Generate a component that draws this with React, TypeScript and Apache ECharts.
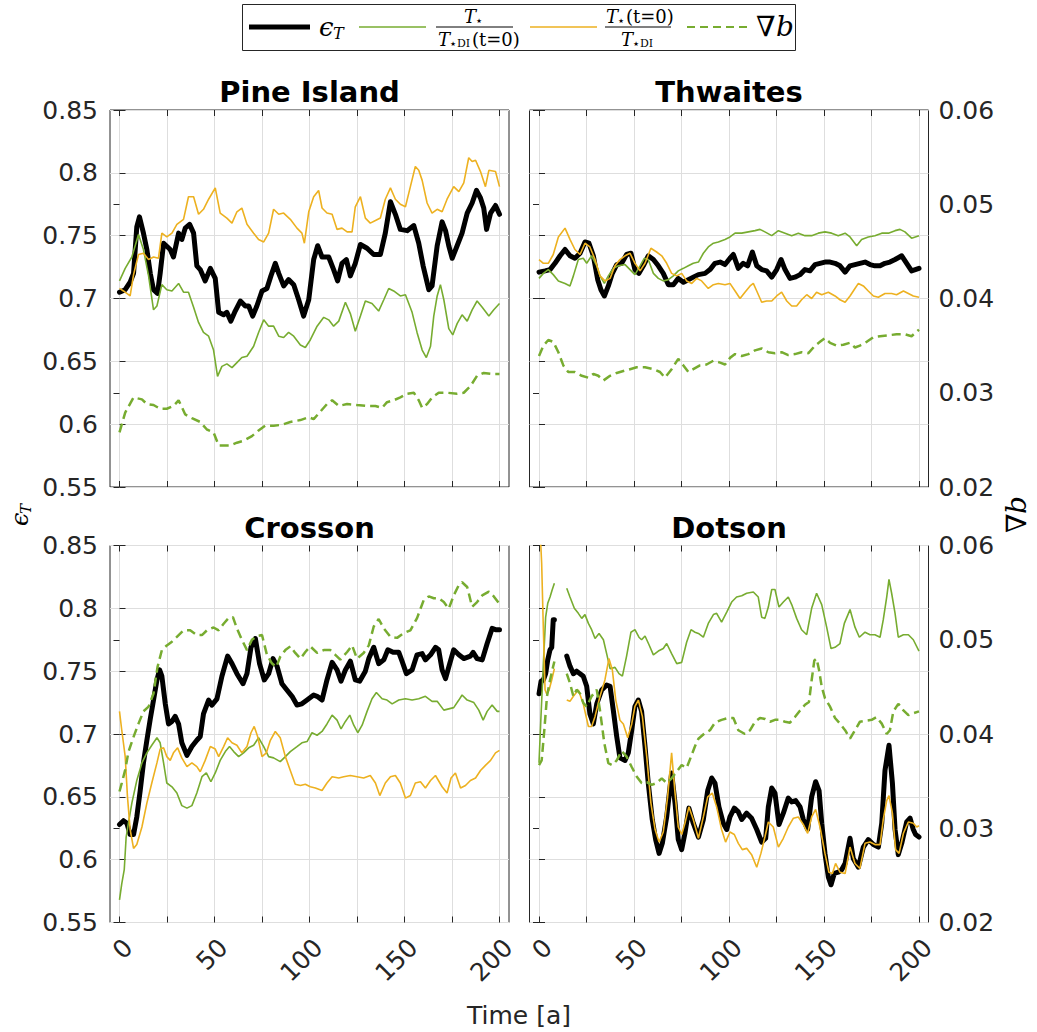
import React, { useEffect, useRef } from "react";
import * as echarts from "echarts";

// ---------------- data ----------------
const X_TICKS = [0, 25, 50, 75, 100, 125, 150, 175, 200];
const X_LABELS = [0, 50, 100, 150, 200];
const TITLES = ["Pine Island", "Thwaites", "Crosson", "Dotson"];

// Pine Island
const pineEps = [[0,0.705],[3,0.707],[5.6,0.713],[7.4,0.72],[9.1,0.757],[10.5,0.765],[12.6,0.752],[14.4,0.739],[16.2,0.72],[17.9,0.707],[20,0.704],[21.4,0.72],[23.2,0.744],[26.7,0.739],[28.4,0.733],[31.1,0.752],[32.8,0.747],[34.6,0.756],[36.9,0.759],[39,0.752],[40.7,0.726],[42.5,0.723],[45.1,0.714],[47.8,0.724],[50.4,0.716],[52.2,0.689],[54.8,0.687],[56.5,0.689],[58.6,0.682],[60.9,0.69],[63.6,0.698],[66.2,0.694],[68,0.694],[70.1,0.686],[72.3,0.694],[75,0.706],[77.6,0.708],[79.7,0.718],[82,0.728],[83.8,0.72],[86.4,0.71],[89,0.715],[91.7,0.711],[94.3,0.699],[96.9,0.686],[99.6,0.699],[102.2,0.731],[104.3,0.742],[106.6,0.733],[110.1,0.733],[112.7,0.723],[114.8,0.714],[117.1,0.728],[119.4,0.731],[121.5,0.718],[124.1,0.728],[126.8,0.743],[130.3,0.74],[133.8,0.735],[137.3,0.735],[139.9,0.752],[142.6,0.777],[145.2,0.767],[147.8,0.755],[151.4,0.754],[154.9,0.758],[157.5,0.744],[159.8,0.726],[162.8,0.707],[164.5,0.71],[167.2,0.742],[169.8,0.761],[171.6,0.754],[173.3,0.742],[175.1,0.732],[177.7,0.742],[180.3,0.752],[183,0.768],[185.6,0.776],[187.9,0.786],[190,0.78],[191.7,0.772],[193.2,0.755],[195.3,0.768],[197.9,0.774],[200,0.767]];
const pineR1 = [[0,0.714],[3,0.724],[6.5,0.733],[10,0.751],[12.6,0.739],[15.3,0.718],[17.9,0.691],[19.7,0.694],[22.3,0.711],[24.9,0.707],[27.6,0.706],[31.1,0.712],[33.7,0.705],[36.3,0.705],[39,0.693],[41.6,0.681],[44.2,0.673],[46.9,0.67],[49.5,0.659],[51.6,0.638],[53.9,0.646],[56.5,0.648],[59.2,0.645],[61.8,0.649],[64.4,0.653],[67.1,0.654],[70.6,0.662],[73.2,0.673],[75.9,0.683],[78.5,0.678],[81.1,0.678],[83.8,0.67],[86.4,0.669],[89,0.673],[91.7,0.67],[95.2,0.663],[97.8,0.661],[100.4,0.667],[104,0.678],[107.5,0.685],[110.1,0.683],[112.7,0.678],[115.4,0.682],[118.9,0.697],[121.5,0.688],[124.1,0.674],[126.8,0.686],[129.4,0.698],[132.9,0.696],[136.4,0.69],[139.1,0.699],[141.7,0.708],[144.3,0.706],[147.8,0.702],[150.5,0.703],[154,0.689],[156.6,0.673],[159.3,0.659],[161.5,0.653],[163.7,0.662],[165.4,0.686],[167.2,0.702],[168.9,0.711],[170.7,0.699],[173.3,0.676],[175.4,0.671],[177.7,0.68],[180.3,0.687],[183,0.682],[185.6,0.691],[188.2,0.698],[190.9,0.693],[194.4,0.686],[197,0.691],[200,0.696]];
const pineR2 = [[0,0.708],[2.1,0.706],[5.6,0.702],[7.4,0.719],[10,0.735],[12.6,0.736],[15.3,0.731],[17.9,0.733],[20.5,0.732],[22.3,0.752],[24.9,0.749],[27.6,0.752],[30.2,0.759],[33.7,0.763],[36.3,0.781],[39,0.781],[41.6,0.767],[44.2,0.771],[46.9,0.779],[50.4,0.788],[53,0.768],[56.5,0.764],[59.2,0.76],[61.8,0.769],[64.4,0.772],[67.1,0.759],[70.6,0.752],[73.2,0.747],[75.9,0.745],[78.5,0.752],[81.1,0.771],[83.8,0.767],[86.4,0.768],[89.9,0.763],[93.4,0.756],[96,0.752],[97.3,0.744],[99.6,0.769],[102.2,0.781],[104.8,0.786],[106.6,0.772],[109.2,0.768],[111.9,0.767],[114.5,0.755],[117.1,0.756],[119.8,0.753],[122.4,0.753],[124.1,0.773],[126.8,0.781],[129.4,0.764],[132,0.76],[134.7,0.762],[137.3,0.764],[139.9,0.779],[142.6,0.788],[145.2,0.779],[147.8,0.775],[150.5,0.773],[153.1,0.789],[155.7,0.805],[157.5,0.802],[159.3,0.794],[161.9,0.776],[164.5,0.768],[167.2,0.771],[169.8,0.769],[172.4,0.779],[175.9,0.789],[178.6,0.785],[181.2,0.792],[183.8,0.812],[185.6,0.809],[187.4,0.81],[190,0.801],[192.6,0.789],[194.4,0.802],[197.9,0.801],[200,0.789]];
const pineGrad = [[0,0.0258],[3,0.0279],[7.4,0.0295],[11.8,0.0293],[14.4,0.0288],[17.9,0.0287],[21.4,0.0283],[24.9,0.0283],[28.4,0.0286],[31.1,0.0292],[34.6,0.0277],[38.1,0.0273],[42.5,0.0269],[46,0.0261],[49.5,0.0258],[52.2,0.0244],[54.8,0.0244],[58.3,0.0244],[61.8,0.0247],[65.3,0.0249],[69.7,0.0254],[73.2,0.026],[76.7,0.0265],[81.1,0.0265],[85.5,0.0266],[89.9,0.0269],[95.2,0.0271],[99.6,0.0274],[102.2,0.0272],[105.7,0.028],[109.2,0.0288],[111.9,0.0292],[115.4,0.0286],[119.8,0.0288],[125,0.0287],[130.3,0.0286],[134.7,0.0286],[138.2,0.0284],[140.8,0.029],[144.3,0.0292],[147.8,0.0295],[151.4,0.0299],[154.9,0.03],[157.5,0.0292],[159.3,0.0284],[161.9,0.0288],[164.5,0.0295],[168,0.03],[172.4,0.03],[177.7,0.0299],[181.2,0.03],[184.7,0.0307],[188.2,0.0318],[191.7,0.0321],[196.1,0.032],[200,0.032]];

// Thwaites
const thwEps = [[0,0.721],[3.2,0.722],[5.8,0.723],[8.4,0.728],[11.1,0.734],[13.7,0.739],[16.3,0.734],[18.9,0.732],[21.6,0.736],[24.2,0.745],[26.3,0.744],[28.6,0.734],[30.9,0.715],[32.6,0.707],[34.4,0.702],[36.5,0.71],[38.6,0.72],[40.9,0.727],[43.5,0.728],[46.1,0.735],[48.4,0.736],[50.5,0.723],[52.6,0.72],[54.9,0.726],[57.5,0.734],[60.2,0.731],[62.8,0.726],[65.4,0.72],[68.1,0.711],[70.7,0.711],[73.3,0.716],[76,0.713],[78.6,0.715],[81.2,0.717],[83.9,0.719],[87.4,0.72],[90,0.723],[92.6,0.728],[95.3,0.729],[97.9,0.727],[100.5,0.732],[102.3,0.735],[104.9,0.724],[107.5,0.728],[109.8,0.726],[112.3,0.737],[114.6,0.726],[117.2,0.723],[119.8,0.722],[122.5,0.717],[125.1,0.723],[127.4,0.731],[129.5,0.723],[132.1,0.716],[134.7,0.717],[137.4,0.719],[140,0.723],[142.6,0.722],[145.3,0.727],[147.9,0.728],[150.5,0.729],[153.2,0.729],[155.8,0.728],[158.4,0.726],[161.1,0.721],[163.7,0.726],[166.3,0.727],[168.9,0.728],[171.6,0.729],[174.2,0.727],[176.8,0.726],[179.5,0.726],[182.1,0.728],[184.7,0.729],[187.4,0.731],[190.9,0.734],[193.5,0.728],[196.1,0.722],[200,0.724]];
const thwR1 = [[0,0.716],[2.3,0.72],[4.9,0.723],[7.5,0.719],[10.2,0.714],[13.7,0.712],[16.3,0.71],[18.1,0.718],[20.7,0.731],[23.3,0.732],[25.1,0.728],[27.7,0.734],[30.4,0.726],[32.1,0.718],[34.4,0.712],[36.5,0.718],[39.1,0.724],[41.8,0.726],[45.3,0.727],[47.9,0.723],[50.5,0.719],[53.2,0.726],[55.4,0.732],[57.5,0.731],[60.2,0.72],[62.8,0.716],[65.4,0.714],[68.1,0.715],[70.7,0.718],[73.3,0.722],[76,0.724],[78.6,0.726],[81.2,0.728],[83.9,0.729],[86.5,0.736],[89.1,0.741],[91.8,0.744],[94.4,0.745],[97.9,0.747],[100.5,0.749],[103.2,0.752],[106.7,0.752],[110.2,0.753],[113.7,0.754],[116.3,0.755],[118.9,0.753],[122.5,0.75],[126,0.754],[129.5,0.752],[133,0.75],[136.5,0.752],[140,0.75],[143.5,0.75],[147,0.752],[150.5,0.753],[154,0.752],[157.5,0.75],[161.1,0.752],[163.7,0.749],[167.2,0.742],[169.8,0.747],[173.3,0.749],[176.8,0.75],[180.4,0.752],[183.9,0.752],[187.4,0.754],[190,0.755],[192.6,0.753],[196.1,0.748],[200,0.75]];
const thwR2 = [[0,0.731],[2.3,0.728],[4.9,0.728],[7.5,0.735],[10.2,0.749],[13.7,0.756],[16.3,0.747],[18.9,0.739],[21.6,0.735],[24.2,0.744],[26.8,0.741],[29.5,0.731],[32.1,0.718],[34.7,0.714],[37.4,0.716],[40,0.726],[42.6,0.731],[45.3,0.734],[47.9,0.736],[50.5,0.728],[53.2,0.722],[55.8,0.728],[58.9,0.74],[61.9,0.737],[64.6,0.734],[67.2,0.728],[69.8,0.72],[72.5,0.718],[75.1,0.72],[77.7,0.714],[80.4,0.712],[83,0.716],[85.6,0.714],[89.1,0.708],[91.8,0.711],[94.4,0.712],[97.9,0.711],[100.5,0.712],[103.2,0.706],[105.8,0.7],[108.4,0.705],[111.1,0.71],[112.8,0.712],[114.6,0.706],[117.2,0.697],[119.8,0.698],[122.5,0.698],[125.1,0.702],[127.7,0.705],[130.4,0.698],[133,0.694],[135.6,0.694],[138.2,0.699],[140.9,0.703],[143.5,0.7],[146.1,0.705],[148.8,0.703],[152.3,0.705],[155.8,0.702],[158.4,0.699],[161.1,0.697],[163.7,0.702],[166.3,0.708],[168.1,0.712],[170.7,0.71],[173.3,0.706],[176,0.702],[178.6,0.701],[182.1,0.704],[185.6,0.704],[188.2,0.703],[191.8,0.706],[194.4,0.704],[197,0.702],[200,0.701]];
const thwGrad = [[0,0.0339],[2.3,0.035],[4.9,0.0356],[7.5,0.0354],[10.2,0.0343],[12.8,0.0329],[15.4,0.0322],[18.9,0.0322],[22.5,0.0318],[26,0.0316],[28.6,0.032],[31.2,0.0318],[33.9,0.0313],[37.4,0.0318],[40.9,0.0321],[44.4,0.0323],[47.9,0.0325],[51.4,0.0327],[55.8,0.0327],[60.2,0.0325],[63.7,0.0322],[66.3,0.0316],[69.8,0.0325],[73.3,0.0336],[76,0.0329],[78.6,0.0322],[81.2,0.0325],[84.7,0.0329],[88.2,0.033],[91.8,0.0334],[95.3,0.0332],[97.9,0.033],[100.5,0.0337],[103.2,0.0341],[106.7,0.0339],[110.2,0.0341],[113.7,0.0345],[117.2,0.0347],[120.7,0.0343],[124.2,0.0342],[127.7,0.0343],[131.2,0.034],[134.7,0.0341],[138.2,0.0343],[141.8,0.0342],[145.3,0.035],[147.9,0.0354],[150.5,0.0358],[153.2,0.0353],[156.7,0.035],[160.2,0.0351],[163.7,0.0353],[166.3,0.0348],[168.9,0.035],[172.5,0.0354],[176,0.0359],[179.5,0.036],[183.9,0.0361],[188.2,0.0362],[192.6,0.0362],[196.1,0.036],[200,0.0367]];

// Crosson
const croEps = [[0,0.628],[2.1,0.631],[3.9,0.629],[5.6,0.62],[7.4,0.62],[9.1,0.634],[10.9,0.655],[12.6,0.677],[14.4,0.695],[16.2,0.712],[17.9,0.727],[19.7,0.743],[21.1,0.751],[22.3,0.746],[24.1,0.724],[25.8,0.708],[27.6,0.71],[29.3,0.714],[31.1,0.708],[32.8,0.693],[35.5,0.683],[38.1,0.69],[40.7,0.695],[42.5,0.698],[44.2,0.716],[46.9,0.727],[48.6,0.723],[51.3,0.728],[53.9,0.746],[56.9,0.762],[59.2,0.756],[61.8,0.748],[65,0.74],[67.1,0.748],[69.2,0.769],[71.5,0.776],[73.7,0.756],[76.2,0.743],[78.5,0.748],[80.8,0.76],[82.9,0.754],[85.5,0.74],[88.1,0.735],[90.8,0.73],[93.4,0.723],[96,0.724],[98.7,0.727],[102.2,0.731],[104,0.73],[106.6,0.727],[109.2,0.743],[111.9,0.757],[114.5,0.751],[116.6,0.742],[118.9,0.751],[121.5,0.758],[124.1,0.743],[126.4,0.742],[129.4,0.75],[131.2,0.76],[133.8,0.769],[136.4,0.756],[139.1,0.759],[141.2,0.767],[144,0.765],[147,0.765],[148.7,0.758],[151,0.748],[154,0.751],[156.6,0.763],[159.3,0.764],[161,0.759],[163.7,0.763],[166.3,0.769],[168,0.767],[169.8,0.751],[171.6,0.744],[173.8,0.756],[175.9,0.767],[178.6,0.763],[181.2,0.76],[184.7,0.762],[186.1,0.765],[188.2,0.76],[190.9,0.759],[193.5,0.772],[196.1,0.784],[197.9,0.783],[200,0.783]];
const croR1 = [[0,0.568],[1.2,0.581],[2.5,0.592],[3.5,0.618],[4.7,0.629],[6.5,0.645],[9.1,0.663],[11.8,0.677],[14.4,0.685],[17,0.691],[19.7,0.697],[21.4,0.693],[23.2,0.677],[24.9,0.661],[27.6,0.658],[30.2,0.653],[32.8,0.643],[35.5,0.641],[38.1,0.643],[40.7,0.653],[43.4,0.666],[45.7,0.669],[48.1,0.662],[50.4,0.669],[53,0.679],[55.7,0.686],[57.9,0.69],[60.1,0.686],[62.7,0.682],[65.3,0.685],[68,0.689],[70.6,0.691],[73.2,0.697],[75.9,0.69],[78.5,0.682],[81.1,0.681],[84.6,0.678],[87.3,0.682],[89.9,0.686],[93.4,0.69],[96,0.693],[98.7,0.694],[101.3,0.701],[104,0.699],[106.6,0.702],[109.2,0.708],[111.9,0.715],[114.5,0.711],[116.6,0.704],[118.9,0.71],[121.2,0.715],[123.3,0.707],[125.4,0.701],[127.7,0.707],[130.3,0.718],[132.9,0.728],[135.2,0.733],[138.2,0.728],[140.8,0.727],[143.5,0.724],[147,0.727],[150.5,0.728],[154,0.727],[157.5,0.728],[161,0.73],[164.5,0.726],[167.2,0.726],[170.7,0.719],[173.3,0.72],[175.9,0.721],[178.6,0.727],[180.3,0.731],[183,0.727],[186.5,0.725],[189.1,0.719],[191.4,0.711],[193.5,0.718],[196.1,0.723],[198.8,0.718],[200,0.718]];
const croR2 = [[0,0.718],[1.2,0.703],[3,0.682],[4.2,0.65],[5.6,0.624],[7.4,0.609],[9.1,0.612],[11.8,0.626],[14.4,0.645],[17,0.661],[19.7,0.677],[21.4,0.688],[23.2,0.689],[24.9,0.682],[26.7,0.679],[28.4,0.685],[30.6,0.689],[32.8,0.681],[35.5,0.674],[38.1,0.677],[40.7,0.674],[42.5,0.67],[45.1,0.679],[47.8,0.69],[50.4,0.688],[52.2,0.682],[54.8,0.69],[56.9,0.697],[59.2,0.693],[61.8,0.691],[64.4,0.685],[67.1,0.69],[69.2,0.701],[70.9,0.706],[72.7,0.698],[75,0.682],[77.3,0.685],[79.4,0.695],[82,0.702],[84.6,0.697],[87.3,0.682],[89.9,0.671],[92.5,0.66],[95.2,0.659],[97.8,0.66],[100.4,0.658],[103.1,0.657],[106.6,0.655],[109.2,0.661],[111.9,0.666],[115.4,0.665],[118,0.666],[121.5,0.667],[125,0.666],[128.5,0.665],[132,0.667],[134.7,0.661],[137,0.651],[139.9,0.661],[142.6,0.666],[145.2,0.667],[147.8,0.661],[150.5,0.649],[153.1,0.651],[155.7,0.661],[158.4,0.662],[161,0.657],[163.7,0.663],[166.3,0.667],[169.8,0.658],[172.4,0.653],[174.5,0.665],[176.8,0.669],[179.5,0.657],[182.1,0.659],[184.7,0.663],[187.4,0.665],[190,0.671],[192.6,0.675],[195.3,0.679],[197.9,0.685],[200,0.687]];
const croGrad = [[0,0.0339],[1.2,0.0348],[3,0.0362],[4.7,0.0381],[7.4,0.0397],[10,0.0411],[12.6,0.0424],[15.3,0.0429],[17.9,0.0443],[20,0.0471],[22.3,0.0489],[24.9,0.0494],[27.6,0.0498],[30.2,0.0503],[33.7,0.051],[37.2,0.051],[40.7,0.0505],[43.4,0.0505],[46,0.051],[49.5,0.0513],[52.2,0.051],[54.8,0.0517],[57.4,0.0523],[59.7,0.0524],[61.8,0.0512],[64.4,0.05],[67.1,0.0489],[69.7,0.05],[72.3,0.0504],[75,0.0505],[77.6,0.0484],[80.2,0.0475],[82.5,0.0471],[84.6,0.0482],[87.3,0.0489],[89.9,0.0493],[92.5,0.0486],[95.2,0.048],[97.8,0.0487],[100.4,0.0493],[104,0.0486],[107.5,0.0489],[111,0.0489],[113.6,0.0484],[116.2,0.0479],[119.8,0.0487],[122.4,0.0494],[125,0.048],[128.5,0.0486],[131.2,0.0494],[133.8,0.0514],[136.4,0.0522],[139.1,0.0512],[142.6,0.0503],[146.1,0.0502],[149.6,0.0507],[153.1,0.051],[156.6,0.0523],[160.1,0.0542],[162.8,0.0546],[165.4,0.0544],[168,0.0544],[170.7,0.054],[173.3,0.0533],[175.9,0.0547],[178.6,0.0558],[180.3,0.0561],[183,0.0556],[185.6,0.0535],[188.2,0.054],[190.9,0.0547],[194.4,0.0551],[197,0.0546],[200,0.0538]];

// Dotson ("-" marks the data gap)
const dotEps = [[0,0.732],[1.1,0.742],[2.3,0.743],[3.5,0.748],[4.6,0.759],[5.8,0.767],[6.7,0.769],[7.5,0.791],[8.1,0.791],[11,"-"],[14.6,0.762],[16.3,0.754],[18.1,0.748],[19.8,0.75],[21.6,0.748],[23.3,0.746],[25.1,0.738],[26.8,0.716],[28.6,0.708],[30.4,0.724],[33,0.735],[35.6,0.739],[37.4,0.738],[39.1,0.719],[40.9,0.698],[42.6,0.681],[45.3,0.679],[47,0.685],[48.8,0.703],[50.5,0.722],[52.3,0.727],[54,0.718],[55.8,0.69],[57.5,0.661],[59.6,0.632],[61.4,0.616],[63.2,0.605],[64.9,0.613],[67.2,0.634],[69.8,0.669],[71.6,0.645],[73.3,0.616],[75.1,0.608],[76.8,0.621],[78.9,0.641],[81.2,0.629],[83.9,0.618],[86.5,0.632],[88.8,0.655],[90.9,0.665],[92.6,0.661],[94.7,0.642],[97,0.629],[98.8,0.624],[100.5,0.634],[102.8,0.641],[104.9,0.638],[106.7,0.632],[109.3,0.637],[111.9,0.633],[114.6,0.624],[117.2,0.614],[119.3,0.617],[120.7,0.642],[122.5,0.657],[124.2,0.653],[126.3,0.628],[128.6,0.637],[131.2,0.649],[133,0.646],[135.1,0.647],[137.4,0.642],[139.1,0.632],[141.4,0.624],[143.5,0.65],[145.6,0.662],[147.4,0.655],[148.8,0.629],[150.5,0.605],[152.3,0.586],[153.7,0.58],[155.4,0.589],[157.5,0.59],[159.3,0.592],[161.1,0.597],[163.7,0.617],[165.4,0.601],[168.1,0.594],[170.7,0.61],[173.3,0.616],[176,0.612],[178.6,0.61],[180.4,0.629],[182.1,0.671],[184.2,0.691],[186,0.661],[187.4,0.624],[189.1,0.604],[190.9,0.613],[193.5,0.63],[195.3,0.633],[197,0.624],[198.2,0.62],[200,0.618]];
const dotR1 = [[0,0.677],[1.1,0.716],[2.3,0.756],[3.5,0.793],[4.6,0.804],[5.8,0.809],[7,0.815],[8.1,0.82],[11,"-"],[14.6,0.816],[16.3,0.809],[18.6,0.8],[20.7,0.796],[22.5,0.792],[24.2,0.795],[26,0.788],[27.7,0.783],[29.5,0.776],[31.6,0.78],[33.9,0.775],[35.6,0.764],[37.4,0.752],[40,0.753],[42.1,0.748],[43.9,0.746],[46.1,0.762],[48.4,0.781],[50.5,0.783],[52.6,0.777],[54,0.775],[55.8,0.778],[57.9,0.771],[60.2,0.763],[62.8,0.766],[65.4,0.768],[67.2,0.772],[69.8,0.764],[72.5,0.756],[75.1,0.757],[77.7,0.773],[80,0.783],[82.1,0.781],[83.9,0.78],[86.5,0.777],[89.1,0.788],[91.8,0.795],[93.5,0.796],[96.1,0.789],[98.8,0.797],[101.4,0.805],[104,0.809],[106.7,0.81],[109.3,0.812],[112.8,0.813],[115.4,0.809],[117.2,0.793],[118.9,0.792],[120.7,0.801],[122.5,0.815],[124.2,0.815],[126.3,0.801],[128.6,0.805],[131.2,0.809],[133,0.803],[135.6,0.792],[138.2,0.783],[140.9,0.779],[143.5,0.8],[146.1,0.812],[148.8,0.803],[151.4,0.785],[153.7,0.768],[155.8,0.769],[158.4,0.772],[160.7,0.788],[163.7,0.799],[166.3,0.785],[168.6,0.777],[171.6,0.781],[174.2,0.779],[176.8,0.779],[179.5,0.777],[181.2,0.791],[183,0.809],[184.2,0.823],[185.6,0.812],[187.4,0.796],[189.1,0.777],[191.8,0.779],[194.4,0.779],[197,0.775],[200,0.766]];
const dotR2 = [[0,0.88],[1.4,0.836],[2.3,0.783],[3.2,0.735],[4,0.732],[5.3,0.735],[6.7,0.743],[8.1,0.752],[11,"-"],[14.6,0.727],[16.3,0.726],[18.1,0.73],[20.7,0.735],[23.3,0.724],[26,0.706],[27.7,0.706],[29.5,0.714],[32.1,0.73],[34.7,0.743],[36.8,0.76],[38.6,0.751],[40.4,0.727],[42.6,0.711],[44.4,0.708],[46.7,0.697],[48.8,0.708],[50.5,0.722],[52.3,0.727],[54.4,0.714],[56.7,0.682],[58.9,0.645],[61.1,0.624],[63.2,0.614],[65.4,0.622],[67.7,0.65],[69.8,0.685],[71.6,0.653],[73.3,0.626],[75.1,0.62],[76.8,0.629],[78.9,0.642],[81.2,0.632],[83.9,0.617],[86.5,0.634],[88.8,0.65],[91.2,0.653],[93.5,0.642],[96.1,0.624],[98.2,0.614],[100.5,0.622],[102.8,0.62],[104.9,0.613],[107,0.608],[109.3,0.609],[111.9,0.604],[114.6,0.594],[116.8,0.605],[118.9,0.618],[120.7,0.63],[123.3,0.626],[126,0.61],[128.6,0.617],[131.2,0.626],[133.9,0.633],[136.5,0.634],[139.1,0.628],[141.4,0.621],[143.5,0.634],[145.6,0.64],[147.9,0.626],[150.5,0.605],[152.6,0.59],[154.4,0.589],[156.1,0.597],[158.4,0.59],[161.1,0.589],[163.7,0.61],[166.3,0.597],[168.9,0.593],[171.6,0.613],[174.2,0.614],[176.8,0.612],[179.5,0.612],[181.2,0.632],[183,0.647],[184.2,0.651],[186,0.637],[187.7,0.608],[189.5,0.605],[191.8,0.621],[194.4,0.63],[197,0.629],[198.8,0.626],[200,0.627]];
const dotGrad = [[0,0.0367],[1.4,0.0372],[2.8,0.0404],[4.2,0.044],[5.8,0.0457],[7,0.0468],[8.1,0.0477],[11,"-"],[14.6,0.0464],[16.3,0.0454],[18.1,0.044],[19.8,0.0447],[21.6,0.0443],[23.3,0.0433],[25.1,0.0429],[27.7,0.044],[30.4,0.0447],[32.1,0.0425],[34.4,0.039],[36.5,0.0369],[38.6,0.0367],[40.9,0.0372],[43.5,0.0382],[46.1,0.0376],[48.8,0.0365],[51.4,0.0355],[54,0.0348],[56.7,0.0349],[59.3,0.0346],[61.9,0.0348],[64.6,0.0353],[67.2,0.0348],[69.8,0.0353],[72.5,0.036],[75.1,0.0367],[77.7,0.0364],[80,0.0376],[82.1,0.0387],[83.9,0.0395],[87.4,0.0401],[90,0.0404],[92.6,0.0412],[96.1,0.0415],[99.6,0.0417],[102.3,0.0417],[104.9,0.0404],[108.4,0.04],[111.1,0.0404],[113.7,0.0413],[116.3,0.0417],[118.9,0.0416],[121.6,0.0413],[124.2,0.0415],[126.8,0.0415],[129.5,0.0413],[132.1,0.0412],[134.7,0.0418],[137.4,0.0425],[140,0.0431],[142.1,0.0434],[143.5,0.0457],[144.9,0.0478],[146.1,0.048],[147.4,0.0468],[148.8,0.045],[150.5,0.0438],[153.2,0.0429],[155.8,0.0417],[158.4,0.0411],[161.1,0.0404],[163.7,0.0395],[166.3,0.0404],[168.9,0.0413],[171.6,0.0414],[175.1,0.0415],[177.7,0.0418],[180.4,0.0411],[183,0.04],[184.7,0.0404],[186.5,0.0424],[189.1,0.0432],[191.8,0.0425],[194.4,0.042],[197,0.0422],[200,0.0424]];

const EPS = [pineEps, thwEps, croEps, dotEps];
const R1 = [pineR1, thwR1, croR1, dotR1];
const R2 = [pineR2, thwR2, croR2, dotR2];
const GRAD = [pineGrad, thwGrad, croGrad, dotGrad];

// ---------------- styling ----------------
const GREEN = "#77AC30";
const ORANGE = "#EDB120";
const AX = "#262626";
const GRIDC = "#dedede";
const SANS = "DejaVu Sans";
const SERIF = "DejaVu Serif";

const GRIDS = [
  { left: 110, top: 110 },
  { left: 529.5, top: 110 },
  { left: 110, top: 545.5 },
  { left: 529.5, top: 545.5 },
];
const GW = 399;
const GH = 377;

function txt(x: number, y: number, text: string, o: any = {}) {
  return {
    type: "text",
    x,
    y,
    silent: true,
    z: 100,
    style: {
      text,
      fill: o.fill || "#000",
      fontSize: o.fontSize || 18,
      fontFamily: o.fontFamily || SERIF,
      fontStyle: o.fontStyle || "normal",
      fontWeight: o.fontWeight || "normal",
      align: o.align || "left",
      textAlign: o.align || "left",
      verticalAlign: "middle",
      textVerticalAlign: "middle",
    },
  };
}
function ln(x1: number, y1: number, x2: number, y2: number, stroke: string, w: number, dash?: number[]) {
  return {
    type: "line",
    silent: true,
    z: 100,
    shape: { x1, y1, x2, y2 },
    style: { stroke, lineWidth: w, lineDash: dash || null },
  };
}

function buildOption() {
  const xAxis: any[] = [];
  const yAxis: any[] = [];
  const series: any[] = [];
  for (let i = 0; i < 4; i++) {
    xAxis.push({
      type: "value",
      gridIndex: i,
      min: -5,
      max: 205,
      position: "bottom",
      axisLine: { show: false },
      axisTick: { show: true, inside: true, length: 6, customValues: X_TICKS, lineStyle: { color: AX } },
      axisLabel: {
        show: i >= 2,
        customValues: X_LABELS,
        rotate: 45,
        fontSize: 25,
        fontFamily: SANS,
        color: AX,
        margin: 12,
        verticalAlign: "top",
      },
      splitLine: { show: true, lineStyle: { color: GRIDC, width: 1 } },
    });
  }
  for (let i = 0; i < 4; i++) {
    xAxis.push({
      type: "value",
      gridIndex: i,
      min: -5,
      max: 205,
      position: "top",
      axisLine: { show: false },
      axisTick: { show: true, inside: true, length: 6, customValues: X_TICKS, lineStyle: { color: AX } },
      axisLabel: { show: false },
      splitLine: { show: false },
    });
  }
  for (let i = 0; i < 4; i++) {
    yAxis.push({
      type: "value",
      gridIndex: i,
      min: 0.55,
      max: 0.85,
      interval: 0.05,
      position: "left",
      axisLine: { show: false },
      axisTick: { show: true, inside: true, length: 6, lineStyle: { color: AX } },
      axisLabel: {
        show: i % 2 === 0,
        fontSize: 25,
        fontFamily: SANS,
        color: AX,
        margin: 12,
        formatter: (v: number) => String(+v.toFixed(2)),
      },
      splitLine: { show: true, lineStyle: { color: GRIDC, width: 1 } },
    });
  }
  for (let i = 0; i < 4; i++) {
    yAxis.push({
      type: "value",
      gridIndex: i,
      min: 0.02,
      max: 0.06,
      interval: 0.01,
      position: "right",
      axisLine: { show: false },
      axisTick: { show: true, inside: true, length: 6, lineStyle: { color: AX } },
      axisLabel: {
        show: i % 2 === 1,
        fontSize: 25,
        fontFamily: SANS,
        color: AX,
        margin: 10,
        formatter: (v: number) => String(+v.toFixed(2)),
      },
      splitLine: { show: false },
    });
  }
  for (let i = 0; i < 4; i++) {
    series.push({
      type: "line",
      xAxisIndex: i,
      yAxisIndex: i,
      data: EPS[i],
      showSymbol: false,
      symbol: "none",
      lineStyle: { color: "#000", width: 5, cap: "round", join: "round" },
      z: 2,
    });
    series.push({
      type: "line",
      xAxisIndex: i,
      yAxisIndex: i,
      data: R1[i],
      showSymbol: false,
      symbol: "none",
      lineStyle: { color: GREEN, width: 1.6 },
      z: 3,
    });
    series.push({
      type: "line",
      xAxisIndex: i,
      yAxisIndex: i,
      data: R2[i],
      showSymbol: false,
      symbol: "none",
      lineStyle: { color: ORANGE, width: 1.6 },
      z: 4,
    });
    series.push({
      type: "line",
      xAxisIndex: i,
      yAxisIndex: 4 + i,
      data: GRAD[i],
      showSymbol: false,
      symbol: "none",
      lineStyle: { color: GREEN, width: 2.5, type: [9, 5] },
      z: 5,
    });
  }

  const graphic: any[] = [];
  // panel titles
  for (let i = 0; i < 4; i++) {
    const g = GRIDS[i];
    graphic.push(
      txt(g.left + GW / 2, g.top - 18, TITLES[i], { fontSize: 29, fontFamily: SANS, fontWeight: "bold", align: "center" })
    );
  }
  // legend
  graphic.push({
    type: "rect",
    silent: true,
    z: 99,
    shape: { x: 242.5, y: 4.5, width: 553, height: 46 },
    style: { fill: "#fff", stroke: AX, lineWidth: 1 },
  });
  graphic.push(ln(249, 27, 310, 27, "#000", 5));
  graphic.push(txt(319, 27, "ϵ", { fontSize: 26, fontStyle: "italic" }));
  graphic.push(txt(333, 33, "T", { fontSize: 16, fontStyle: "italic" }));
  graphic.push(ln(359, 27, 426, 27, GREEN, 1.6));
  // fraction 1
  graphic.push(ln(436, 27, 513, 27, "#000", 1));
  graphic.push(txt(464, 16, "T", { fontSize: 18, fontStyle: "italic" }));
  graphic.push(txt(475, 20, "⋆", { fontSize: 13, fontFamily: SANS }));
  graphic.push(txt(438, 39, "T", { fontSize: 18, fontStyle: "italic" }));
  graphic.push(txt(449, 43, "⋆", { fontSize: 13, fontFamily: SANS }));
  graphic.push(txt(457, 43, "DI", { fontSize: 11 }));
  graphic.push(txt(472, 39, "(t=0)", { fontSize: 18 }));
  graphic.push(ln(530, 27, 597, 27, ORANGE, 1.6));
  // fraction 2
  graphic.push(ln(605, 27, 671, 27, "#000", 1));
  graphic.push(txt(606, 16, "T", { fontSize: 18, fontStyle: "italic" }));
  graphic.push(txt(617, 20, "⋆", { fontSize: 13, fontFamily: SANS }));
  graphic.push(txt(626, 16, "(t=0)", { fontSize: 18 }));
  graphic.push(txt(621, 39, "T", { fontSize: 18, fontStyle: "italic" }));
  graphic.push(txt(632, 43, "⋆", { fontSize: 13, fontFamily: SANS }));
  graphic.push(txt(640, 43, "DI", { fontSize: 11 }));
  graphic.push(ln(687, 27, 750, 27, GREEN, 2.2, [8, 5]));
  graphic.push(txt(756, 26, "∇", { fontSize: 28 }));
  graphic.push(txt(776, 26, "b", { fontSize: 28, fontStyle: "italic" }));

  // axis names
  graphic.push({
    type: "group",
    x: 20,
    y: 517,
    rotation: Math.PI / 2,
    silent: true,
    children: [
      txt(-9, 0, "ϵ", { fontSize: 24, fontStyle: "italic" }),
      txt(3, 6, "T", { fontSize: 15, fontStyle: "italic" }),
    ],
  });
  graphic.push({
    type: "group",
    x: 1016,
    y: 517,
    rotation: Math.PI / 2,
    silent: true,
    children: [
      txt(-16, 0, "∇", { fontSize: 28 }),
      txt(3, 0, "b", { fontSize: 28, fontStyle: "italic" }),
    ],
  });
  graphic.push(txt(519, 1015, "Time [a]", { fontSize: 25, fontFamily: SANS, fill: AX, align: "center" }));

  return {
    animation: false,
    backgroundColor: "#fff",
    grid: GRIDS.map((g) => ({
      left: g.left,
      top: g.top,
      width: GW,
      height: GH,
      show: true,
      borderColor: AX,
      borderWidth: 1,
      backgroundColor: "transparent",
      containLabel: false,
    })),
    xAxis,
    yAxis,
    series,
    graphic,
  };
}

export default function App() {
  const ref = useRef<HTMLDivElement>(null);
  useEffect(() => {
    if (!ref.current) return;
    const chart = echarts.init(ref.current, undefined, { renderer: "svg" });
    chart.setOption(buildOption() as any);
    return () => chart.dispose();
  }, []);
  return (
    <div
      ref={ref}
      style={{ position: "absolute", left: 0, top: 0, width: 1037, height: 1032, background: "#fff" }}
    />
  );
}
